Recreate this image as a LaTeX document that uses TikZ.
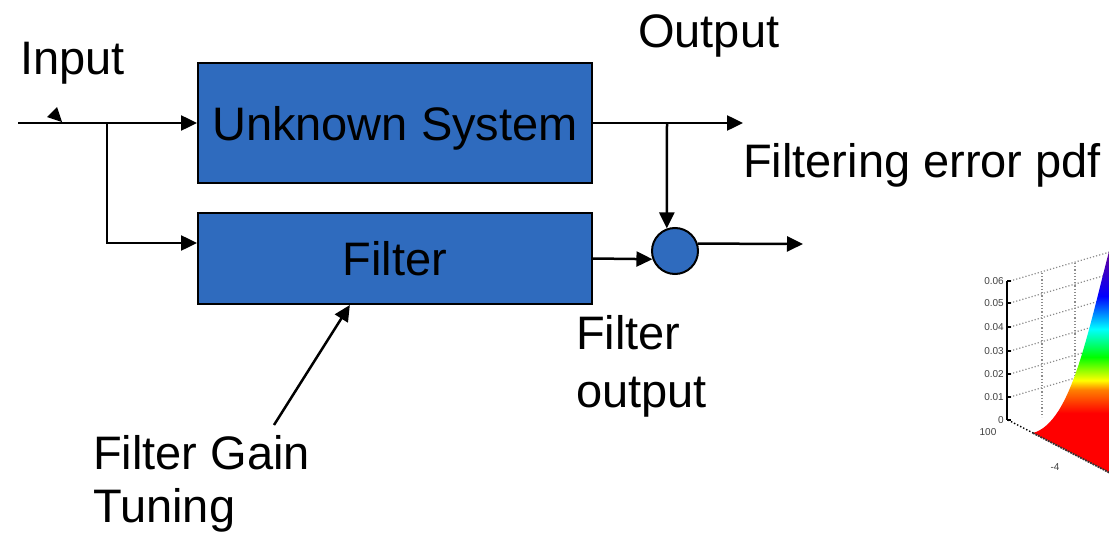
\documentclass[tikz,border=0pt]{standalone}
\usepackage{fontspec}
\setmainfont{Liberation Sans}
\usepackage{xcolor}
\definecolor{blockbg}{RGB}{47,107,190}
\usepackage{tikz}
\usetikzlibrary{positioning, arrows.meta, calc}

\newcommand{\bigfont}{\fontsize{47}{55}\selectfont}
\newcommand{\tinyfont}{\fontsize{10}{11}\selectfont}

% colour ramp of the pdf surface (bottom to top)
\pgfdeclareverticalshading{pdframp}{100bp}{color(0bp)=(red); color(38bp)=(red);
  color(43bp)=(orange); color(45bp)=(yellow); color(50bp)=(green);
  color(56bp)=(cyan); color(63bp)=(blue); color(75bp)=(violet); color(100bp)=(violet)}

\begin{document}
\begin{tikzpicture}[
  x=1pt, y=-1pt,
  block/.style={draw, line width=2pt, fill=blockbg, minimum width=394pt,
               inner sep=0pt, text depth=0pt, font=\bigfont},
  sumnode/.style={draw, circle, line width=2pt, fill=blockbg, minimum size=46pt, inner sep=0pt},
  txt/.style={font=\bigfont, inner sep=0pt, align=left},
  arrow/.style={-{Triangle[length=16pt,width=15pt]}, line width=2.5pt},
  ticklbl/.style={font=\tinyfont, anchor=east, inner sep=1pt, text=black!75},
  gridline/.style={dotted, line width=1.2pt, black!45},
]
\useasboundingbox (0,0) rectangle (1109,535);

% --- blocks ---
\node[block, minimum height=120pt] (sys) at (395,123) {Unknown System};
\node[block, minimum height=91pt] (filt) at (395,258.5) {Filter};
\node[sumnode] (sum) at (675,251) {};

% --- labels ---
\node[txt, anchor=base west] (inlbl) at (20,75) {Input};
\node[txt, anchor=base west] (outlbl) at (638,48) {Output};
\node[txt, anchor=base west] (errlbl) at (743,177) {Filtering error pdf};
\node[txt, anchor=north west, font=\fontsize{47}{58}\selectfont] (foutlbl) at (576,315) {Filter\\output};
\node[txt, anchor=north west, font=\fontsize{47}{53}\selectfont] (gainlbl) at (93,435) {Filter Gain\\Tuning};

% --- signal lines ---
\coordinate (in) at (18,123);
\coordinate (split) at (107,123);
\coordinate (fin) at (107,243);
\coordinate (branch) at (667,123);
\coordinate (yout) at (743,123);
\coordinate (eout) at (803,244);
\coordinate (gaintail) at (274,425);
\path (filt.south west) -- (filt.south east) coordinate[pos=0.386] (gaintip);

\draw[arrow] (in) -- (sys.west);
\draw[arrow] (split) -- (fin) -- (fin -| filt.west);
\draw[arrow] (sys.east) -- (yout);
\draw[arrow] (branch) -- (sum.110);
\draw[arrow] (filt.east) -- (sum.200);
\draw[arrow] (sum.18) -- (eout);
\draw[arrow] (gaintail) -- (gaintip);

% small arrow head sitting on the input line
\fill (47,117) -- (57,107) -- (62,122) -- cycle;

% --- error pdf plot (cut at the right edge) ---
\foreach \y in {281,303,327,351,374,397}
  \draw[gridline] (1010,\y) -- ++(110,-32);
\draw[gridline] (1042,273) -- (1042,417);
\draw[gridline] (1075,263) -- (1075,407);
\shade[shading=pdframp] (1033,433) .. controls (1072,422) and (1088,330) .. (1112,240)
  -- (1112,474) -- cycle;
\draw[dotted, line width=1.4pt] (1008,420) -- (1033,433);
\draw[densely dotted, line width=1.8pt, black!80] (1033,433) -- (1112,474);
\draw[line width=2pt] (1007,281) -- (1007,420);
\foreach \y/\t in {281/0.06, 303/0.05, 327/0.04, 351/0.03, 374/0.02, 397/0.01, 420/0} {
  \draw[line width=1.2pt] (1007,\y) -- (1011,\y);
  \node[ticklbl] at (1005,\y) {\t};
}
\node[ticklbl, anchor=center] (zlbl) at (988,432) {100};
\node[ticklbl, anchor=center] (xlbl) at (1055,467) {-4};
\end{tikzpicture}
\end{document}
